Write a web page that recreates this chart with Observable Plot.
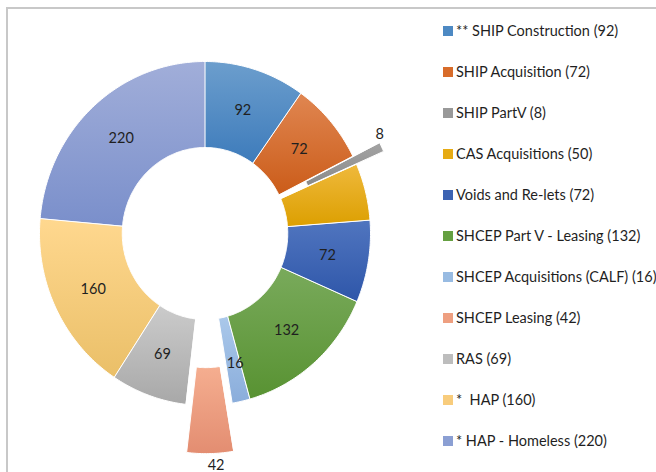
<!DOCTYPE html>
<html>
<head>
<meta charset="utf-8">
<script src="https://cdn.jsdelivr.net/npm/d3@7"></script>
<script src="https://cdn.jsdelivr.net/npm/@observablehq/plot@0.6"></script>
<style>
  body { margin: 0; background: #fff; }
  #wrap { position: relative; width: 656px; height: 472px; overflow: hidden; font-family: Lato, "Liberation Sans", sans-serif; }
  #border { position: absolute; left: 6px; top: 7px; width: 800px; height: 600px; border-left: 2px solid #c8c8c8; border-top: 2px solid #c8c8c8; }
  #chart { position: absolute; left: 0; top: 0; }
  .item { position: absolute; left: 443px; height: 16px; display: flex; align-items: center; font-size: 14.5px; color: #1f1f1f; white-space: pre; }
  .sw { width: 10px; height: 10px; margin-right: 3px; flex: none; }
</style>
</head>
<body>
<div id="wrap">
  <div id="border"></div>
  <div id="chart"></div>
  <div id="legend"></div>
</div>
<script>
// ---- data ----
const categories = [
  "** SHIP Construction",
  "SHIP Acquisition",
  "SHIP PartV",
  "CAS Acquisitions",
  "Voids and Re-lets",
  "SHCEP Part V - Leasing",
  "SHCEP Acquisitions (CALF)",
  "SHCEP Leasing",
  "RAS",
  "*  HAP",
  "* HAP - Homeless"
];
const values = [92, 72, 8, 50, 72, 132, 16, 42, 69, 160, 220];

// ---- styles ----
const colorsTop    = ["#6c9ecd", "#e08651", "#a3a3a3", "#efb93c", "#5075bf", "#79aa5b", "#aac8ea", "#f5ae90", "#cbcbcb", "#ffd88f", "#a1aed9"];
const colorsBottom = ["#3d7bbb", "#cb5c19", "#8a8a8a", "#dc9f00", "#2e56a9", "#589232", "#8aaddb", "#e38d71", "#a8a8a8", "#eabf68", "#7a8fcb"];
const colorsSwatch = ["#4d89c3", "#d86c2a", "#999999", "#e6ab14", "#3c63b2", "#65a041", "#98bbe2", "#ee9f80", "#bdbdbd", "#f8cc7c", "#8b9fd3"];
const explode    = [0, 0, 0.18, 0, 0, 0, 0, 0.28, 0, 0, 0];
const labelR     = [0.75, 0.75, 1.2, 0.75, 0.75, 0.75, 0.75, 1.35, 0.75, 0.75, 0.75];
const labelDx    = [0, 0, -0.03, 0, 0, 0, 0.02, 0.035, 0, 0, 0];
const labelDy    = [0, 0, 0.065, 0, 0, 0, -0.02, 0, 0, 0, 0];
const showLabel  = [true, true, true, false, true, true, true, true, true, true, true];
const innerR = 0.5;

// ---- geometry from data ----
const rows = categories.map((c, i) => ({ i, category: c, value: values[i] }));
const arcs = d3.pie().sort(null).value(d => d.value)(rows);

const polys = arcs.map(a => {
  const i = a.data.i;
  const mid = (a.startAngle + a.endAngle) / 2;
  const dx = explode[i] * Math.sin(mid), dy = explode[i] * Math.cos(mid);
  const n = Math.max(2, Math.ceil((a.endAngle - a.startAngle) / 0.015));
  const pts = [];
  for (let k = 0; k <= n; k++) {
    const t = a.startAngle + (a.endAngle - a.startAngle) * k / n;
    pts.push({ x: dx + Math.sin(t), y: dy + Math.cos(t) });
  }
  for (let k = n; k >= 0; k--) {
    const t = a.startAngle + (a.endAngle - a.startAngle) * k / n;
    pts.push({ x: dx + innerR * Math.sin(t), y: dy + innerR * Math.cos(t) });
  }
  return pts;
});

const labels = arcs.filter(a => showLabel[a.data.i]).map(a => {
  const i = a.data.i;
  const mid = (a.startAngle + a.endAngle) / 2;
  const r = labelR[i];
  return { x: r * Math.sin(mid) + labelDx[i], y: r * Math.cos(mid) + labelDy[i], text: String(a.data.value) };
});

const chart = Plot.plot({
  width: 656,
  height: 472,
  margin: 0,
  x: { domain: [-1, 1], range: [39, 370], axis: null },
  y: { domain: [-1, 1], range: [405, 61], axis: null },
  style: { background: "transparent" },
  marks: [
    ...polys.map((pts, i) => Plot.line(pts, {
      x: "x", y: "y", curve: "linear-closed",
      fill: `url(#grad${i})`, stroke: "white", strokeWidth: 1
    })),
    Plot.text(labels, {
      x: "x", y: "y", text: "text",
      fontSize: 14.5, fill: "#1f1f1f", fontFamily: "Lato, sans-serif"
    })
  ]
});

const defs = d3.select(chart).insert("defs", ":first-child");
categories.forEach((c, i) => {
  const g = defs.append("linearGradient").attr("id", `grad${i}`)
    .attr("x1", 0).attr("y1", 0).attr("x2", 0).attr("y2", 1);
  g.append("stop").attr("offset", "0%").attr("stop-color", colorsTop[i]);
  g.append("stop").attr("offset", "100%").attr("stop-color", colorsBottom[i]);
});
document.getElementById("chart").appendChild(chart);

// ---- legend ----
const legend = document.getElementById("legend");
categories.forEach((c, i) => {
  const it = document.createElement("div");
  it.className = "item";
  it.style.top = (22.5 + 41.02 * i) + "px";
  const sw = document.createElement("span");
  sw.className = "sw";
  sw.style.background = colorsSwatch[i];
  const tx = document.createElement("span");
  tx.textContent = `${c} (${values[i]})`;
  it.appendChild(sw);
  it.appendChild(tx);
  legend.appendChild(it);
});
</script>
</body>
</html>
